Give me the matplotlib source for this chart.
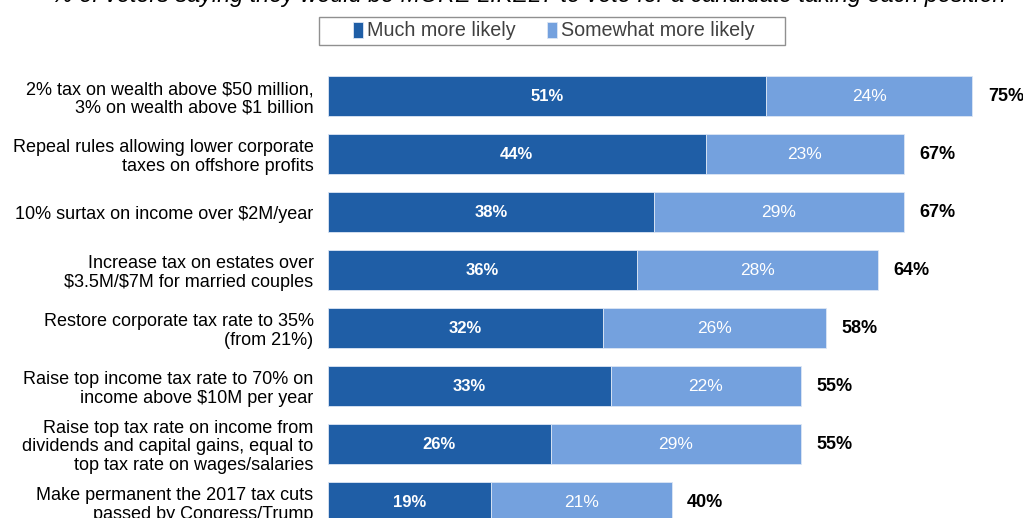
import matplotlib.pyplot as plt
from matplotlib.patches import Rectangle

plt.rcParams['font.family'] = ['Liberation Sans', 'DejaVu Sans']
plt.rcParams['text.parse_math'] = False

# survey positions, top to bottom
positions = [
    "2% tax on wealth above $50 million,\n3% on wealth above $1 billion",
    "Repeal rules allowing lower corporate\ntaxes on offshore profits",
    "10% surtax on income over $2M/year",
    "Increase tax on estates over\n$3.5M/$7M for married couples",
    "Restore corporate tax rate to 35%\n(from 21%)",
    "Raise top income tax rate to 70% on\nincome above $10M per year",
    "Raise top tax rate on income from\ndividends and capital gains, equal to\ntop tax rate on wages/salaries",
    "Make permanent the 2017 tax cuts\npassed by Congress/Trump",
]
much_more = [51, 44, 38, 36, 32, 33, 26, 19]
somewhat_more = [24, 23, 29, 28, 26, 22, 29, 21]
totals = [75, 67, 67, 64, 58, 55, 55, 40]
title = "% of voters saying they would be MORE LIKELY to vote for a candidate taking each position"

dark = '#1f5ea6'
light = '#74a1de'

W, H = 1023, 518
fig = plt.figure(figsize=(W / 100, H / 100), dpi=100)
# axes spans full height; bars stop at the bottom edge like the source
ax = fig.add_axes([327.5 / W, 0, 1 - 327.5 / W, 1])

px_per_pct = 8.6
ax.set_xlim(0, (W - 327.5) / px_per_pct)
top_px, step_px = 96, 58
ax.set_ylim((H - top_px) / step_px, -top_px / step_px)

ys = list(range(len(positions)))
ax.barh(ys, much_more, height=0.69, color=dark, edgecolor='#dce6f4', linewidth=0.6,
        label='Much more likely')
ax.barh(ys, somewhat_more, left=much_more, height=0.69, color=light,
        edgecolor='#dce6f4', linewidth=0.6, label='Somewhat more likely')

for y, m, s, t in zip(ys, much_more, somewhat_more, totals):
    ax.text(m / 2, y, f'{m}%', ha='center', va='center', color='white',
            fontsize=12, fontweight='bold')
    ax.text(m + s / 2, y, f'{s}%', ha='center', va='center', color='white',
            fontsize=12.5)
    ax.text(t + 1.8, y, f'{t}%', ha='left', va='center', color='black',
            fontsize=13, fontweight='bold')

ax.set_yticks(ys)
ax.set_yticklabels(positions, fontsize=13, linespacing=1.12)
ax.tick_params(axis='y', length=0, pad=10)
ax.set_xticks([])
for sp in ax.spines.values():
    sp.set_visible(False)

# legend without its own frame, box drawn separately
leg = fig.legend(loc='center left', bbox_to_anchor=(343 / W, 1 - 31 / H), ncol=2,
                 fontsize=14.2, frameon=False,
                 handlelength=0.5, handleheight=0.9, handletextpad=0.2,
                 columnspacing=1.6, borderpad=0.0)
for txt in leg.get_texts():
    txt.set_color('#404040')
fig.patches.append(Rectangle((319 / W, 1 - 45 / H), 466 / W, 28 / H,
                             transform=fig.transFigure, fill=False,
                             edgecolor='#909090', linewidth=1.0))

# title is cut off at the top of the image; size it so the visible
# descenders ("saying" ... "position") land where they do in the source
renderer = fig.canvas.get_renderer()
def text_width(s, size):
    t = fig.text(0, 0, s, fontsize=size, style='italic')
    w = t.get_window_extent(renderer).width
    t.remove()
    return w

i_y = title.index('ying')
i_p = title.index('position')
w1 = text_width(title[:i_y], 16)
w2 = text_width(title[:i_p], 16)
size = 16 * (925 - 200) / (w2 - w1)
x0 = 200 - w1 * size / 16
fig.text(x0 / W, 1 - 2 / H, title, ha='left', va='baseline',
         fontsize=size, style='italic', color='black')

fig.savefig('out.png', dpi=100)
